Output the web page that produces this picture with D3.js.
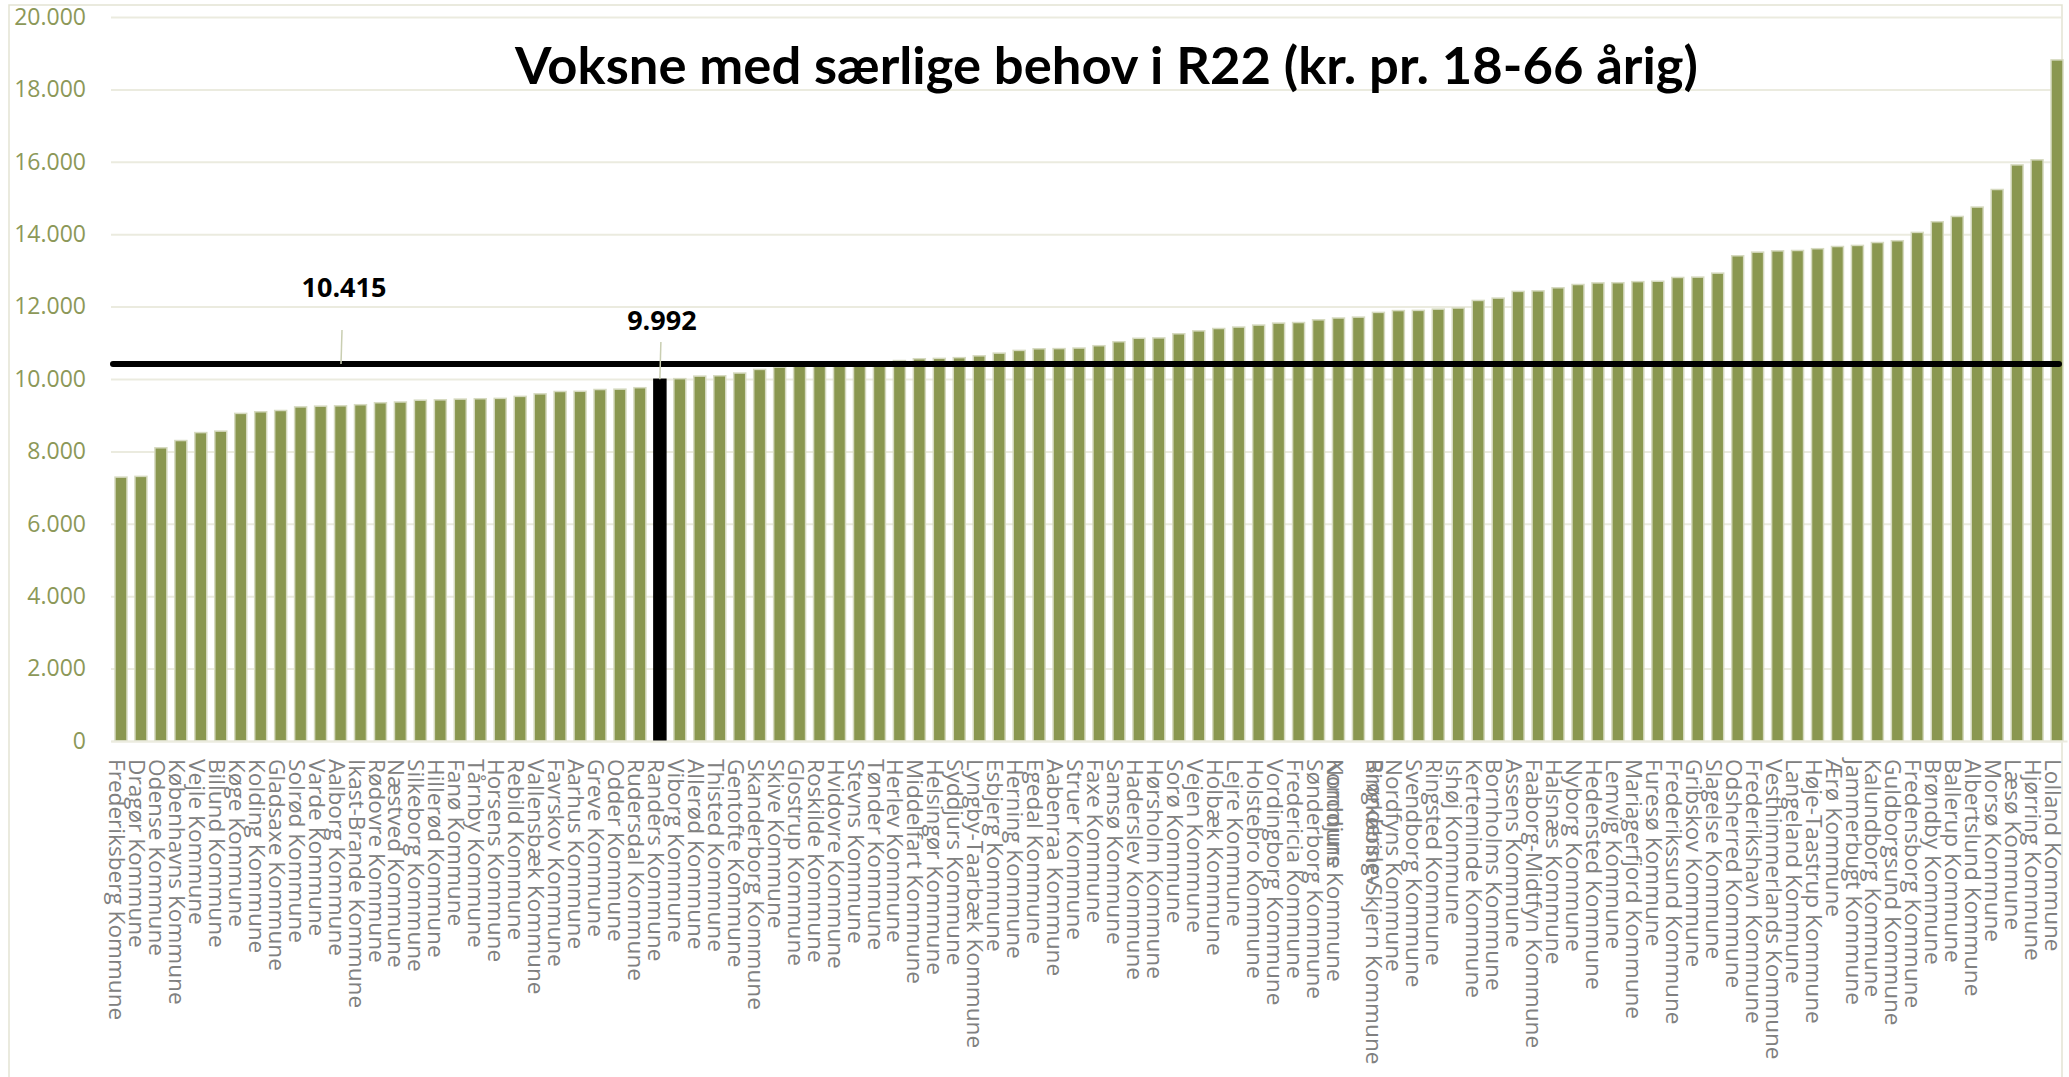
<!DOCTYPE html>
<html>
<head>
<meta charset="utf-8">
<script src="https://cdn.jsdelivr.net/npm/d3@7"></script>
<style>
  body { margin: 0; background: #fff; }
  svg { display: block; font-family: "Open Sans", sans-serif; }
</style>
</head>
<body>
<svg></svg>
<script>
// kommuner, sorted low to high like in the original chart
const kommuner = [
  "Frederiksberg Kommune","Dragør Kommune","Odense Kommune","Københavns Kommune","Vejle Kommune",
  "Billund Kommune","Køge Kommune","Kolding Kommune","Gladsaxe Kommune","Solrød Kommune",
  "Varde Kommune","Aalborg Kommune","Ikast-Brande Kommune","Rødovre Kommune","Næstved Kommune",
  "Silkeborg Kommune","Hillerød Kommune","Fanø Kommune","Tårnby Kommune","Horsens Kommune",
  "Rebild Kommune","Vallensbæk Kommune","Favrskov Kommune","Aarhus Kommune","Greve Kommune",
  "Odder Kommune","Rudersdal Kommune","Randers Kommune","Viborg Kommune","Allerød Kommune",
  "Thisted Kommune","Gentofte Kommune","Skanderborg Kommune","Skive Kommune","Glostrup Kommune",
  "Roskilde Kommune","Hvidovre Kommune","Stevns Kommune","Tønder Kommune","Herlev Kommune",
  "Middelfart Kommune","Helsingør Kommune","Syddjurs Kommune","Lyngby-Taarbæk Kommune","Esbjerg Kommune",
  "Herning Kommune","Egedal Kommune","Aabenraa Kommune","Struer Kommune","Faxe Kommune",
  "Samsø Kommune","Haderslev Kommune","Hørsholm Kommune","Sorø Kommune","Vejen Kommune",
  "Holbæk Kommune","Lejre Kommune","Holstebro Kommune","Vordingborg Kommune","Fredericia Kommune",
  "Sønderborg Kommune","Norddjurs Kommune","Brønderslev\nKommune","Ringkøbing-Skjern Kommune","Nordfyns Kommune",
  "Svendborg Kommune","Ringsted Kommune","Ishøj Kommune","Kerteminde Kommune","Bornholms Kommune",
  "Assens Kommune","Faaborg-Midtfyn Kommune","Halsnæs Kommune","Nyborg Kommune","Hedensted Kommune",
  "Lemvig Kommune","Mariagerfjord Kommune","Furesø Kommune","Frederikssund Kommune","Gribskov Kommune",
  "Slagelse Kommune","Odsherred Kommune","Frederikshavn Kommune","Vesthimmerlands Kommune","Langeland Kommune",
  "Høje-Taastrup Kommune","Ærø Kommune","Jammerbugt Kommune","Kalundborg Kommune","Guldborgsund Kommune",
  "Fredensborg Kommune","Brøndby Kommune","Ballerup Kommune","Albertslund Kommune","Morsø Kommune",
  "Læsø Kommune","Hjørring Kommune","Lolland Kommune"
];

// kr. pr. 18-66 årig
const udgift = [
  7290, 7310, 8100, 8300, 8520, 8560, 9050, 9095, 9130, 9230,
  9250, 9260, 9290, 9345, 9365, 9415, 9425, 9445, 9455, 9465,
  9520, 9590, 9655, 9660, 9710, 9720, 9760, 9992, 10010, 10080,
  10090, 10165, 10265, 10330, 10370, 10390, 10405, 10425, 10450, 10510,
  10560, 10570, 10590, 10640, 10715, 10790, 10835, 10840, 10855, 10920,
  11030, 11125, 11135, 11250, 11330, 11395, 11435, 11490, 11545, 11560,
  11635, 11685, 11710, 11840, 11890, 11895, 11930, 11960, 12170, 12235,
  12420, 12435, 12520, 12610, 12655, 12660, 12690, 12700, 12805, 12815,
  12925, 13405, 13505, 13540, 13550, 13600, 13660, 13690, 13770, 13820,
  14050, 14345, 14490, 14750, 15235, 15915, 16055, 18815
];

const yTicks = [0, 2000, 4000, 6000, 8000, 10000, 12000, 14000, 16000, 18000, 20000];
const landsgennemsnit = 10415;   // the black line
const fremhaevet = "Randers Kommune"; // black bar
const titel = "Voksne med særlige behov i R22 (kr. pr. 18-66 årig)";

const w = 2069;
const h = 1077;
const plotLeft = 111;
const plotRight = 2061;
const plotTop = 17;
const plotBottom = 741;

const barColor = "#8a9750";
const gridColor = "#ebebdf";

const da = d3.formatLocale({decimal: ",", thousands: ".", grouping: [3], currency: ["", " kr."]});
const fmt = da.format(",");

let svg = d3.select("svg").attr("width", w).attr("height", h);

// light chart frame
svg.append("rect")
  .attr("x", 9).attr("y", 5)
  .attr("width", 2053).attr("height", 1100)
  .attr("fill", "none")
  .attr("stroke", "#e3e3d3")
  .attr("stroke-width", 1.5);

let xScale = d3.scaleBand()
  .domain(kommuner)
  .range([plotLeft, 2067])
  .paddingInner(0.4)
  .paddingOuter(0.2);

let yScale = d3.scaleLinear()
  .domain([0, 20000])
  .range([plotBottom, plotTop]);

// y axis + gridlines
let yAxis = d3.axisLeft(yScale)
  .tickValues(yTicks)
  .tickFormat(fmt)
  .tickSize(-(plotRight - plotLeft))
  .tickPadding(25);

let yG = svg.append("g")
  .attr("transform", "translate(" + plotLeft + ",0)")
  .call(yAxis);
yG.select(".domain").remove();
yG.selectAll(".tick line").attr("stroke", gridColor).attr("stroke-width", 2);
yG.selectAll(".tick text")
  .attr("fill", "#8c9858")
  .style("font-size", "23px")
  .style("font-family", "'Open Sans', sans-serif");

// bars
svg.selectAll(".bar")
  .data(kommuner)
  .enter()
  .append("rect")
  .attr("class", "bar")
  .attr("x", (d) => xScale(d))
  .attr("width", xScale.bandwidth())
  .attr("y", (d, i) => yScale(udgift[i]))
  .attr("height", (d, i) => plotBottom - yScale(udgift[i]))
  .attr("fill", (d) => d == fremhaevet ? "#000" : barColor)
  .attr("stroke", (d) => d == fremhaevet ? "#000" : "#d6dac0")
  .attr("stroke-width", 1.5);

// x axis with rotated kommune names
let xAxis = d3.axisBottom(xScale).tickSize(0).tickPadding(0);
let xG = svg.append("g")
  .attr("transform", "translate(0," + plotBottom + ")")
  .call(xAxis);
xG.select(".domain").attr("stroke", gridColor).attr("stroke-width", 2);
xG.selectAll(".tick text").each(function (d) {
  let t = d3.select(this)
    .attr("transform", "rotate(90)")
    .attr("x", 18)
    .attr("y", 4)
    .attr("dy", "0.35em")
    .attr("fill", "#808080")
    .style("text-anchor", "start")
    .style("font-size", "22.6px")
    .style("font-family", "'Open Sans', sans-serif");
  let lines = d.split("\n");
  if (lines.length > 1) { // two line label, spills onto its neighbours
    t.text(null).attr("dy", null);
    lines.forEach((ln, k) => {
      t.append("tspan")
        .attr("x", 18)
        .attr("y", k == 0 ? -16 : 24)
        .attr("dy", "0.35em")
        .text(ln);
    });
  }
});

// average line
let yAvg = yScale(landsgennemsnit);
svg.append("line")
  .attr("x1", plotLeft + 2).attr("x2", plotRight - 2)
  .attr("y1", yAvg).attr("y2", yAvg)
  .attr("stroke", "#000")
  .attr("stroke-width", 6)
  .attr("stroke-linecap", "round");

// data labels with leader lines
let xRanders = xScale(fremhaevet) + xScale.bandwidth() / 2;
let randersVal = udgift[kommuner.indexOf(fremhaevet)];
let labels = [
  {text: fmt(landsgennemsnit), x: 344, y: 297, lx1: 342, ly1: 330, lx2: 341, ly2: yAvg},
  {text: fmt(randersVal), x: xRanders + 2, y: 330, lx1: xRanders + 1, ly1: 342, lx2: xRanders, ly2: yScale(randersVal)}
];
svg.selectAll(".leader")
  .data(labels)
  .enter()
  .append("line")
  .attr("class", "leader")
  .attr("x1", (d) => d.lx1).attr("y1", (d) => d.ly1)
  .attr("x2", (d) => d.lx2).attr("y2", (d) => d.ly2)
  .attr("stroke", "#c9ceb1")
  .attr("stroke-width", 1.5);
svg.selectAll(".dlabel")
  .data(labels)
  .enter()
  .append("text")
  .attr("class", "dlabel")
  .attr("x", (d) => d.x)
  .attr("y", (d) => d.y)
  .attr("text-anchor", "middle")
  .style("font-size", "27px")
  .style("font-weight", "bold")
  .attr("fill", "#000")
  .text((d) => d.text);

// title
svg.append("text")
  .attr("x", 515)
  .attr("y", 84)
  .attr("textLength", 1183)
  .attr("lengthAdjust", "spacingAndGlyphs")
  .style("font-family", "Lato, sans-serif")
  .style("font-weight", "bold")
  .style("font-size", "52px")
  .attr("fill", "#000")
  .text(titel);
</script>
</body>
</html>
